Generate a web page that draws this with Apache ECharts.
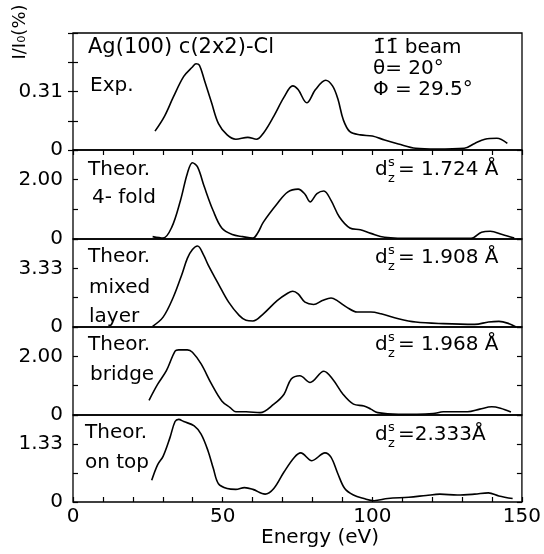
<!DOCTYPE html>
<html>
<head>
<meta charset="utf-8">
<script src="https://cdn.jsdelivr.net/npm/echarts@6/dist/echarts.min.js"></script>
<style>
html, body { margin: 0; padding: 0; background: #fff; }
#chart { width: 544px; height: 554px; }
</style>
</head>
<body>
<div id="chart"></div>
<script>
// energy (eV), intensity pairs
const expCurve = [[27.4,0.10],[30.6,0.18],[33.5,0.28],[37.0,0.39],[39.9,0.44],[41.1,0.457],[42.2,0.45],[43.9,0.37],[46.3,0.25],[48.6,0.14],[51.5,0.08],[54.4,0.057],[58.4,0.067],[61.3,0.057],[63.6,0.089],[67.1,0.18],[70.5,0.28],[73.4,0.34],[75.2,0.32],[78.1,0.25],[81.0,0.32],[84.4,0.37],[86.7,0.34],[88.5,0.27],[90.3,0.16],[92.5,0.097],[96.0,0.08],[100.0,0.074],[104.1,0.053],[108.7,0.032],[114.5,0.009],[121.4,0.005],[130.7,0.009],[134.2,0.035],[137.6,0.057],[141.6,0.062],[145.1,0.035]];
const fourFold = [[26.6,0.08],[30.1,0.03],[33.0,0.40],[35.9,1.30],[38.2,2.21],[39.9,2.57],[41.6,2.43],[43.9,1.75],[46.8,0.96],[49.7,0.37],[53.2,0.15],[56.7,0.08],[60.1,0.03],[61.8,0.22],[63.6,0.57],[68.2,1.19],[71.7,1.58],[75.2,1.68],[77.5,1.51],[79.2,1.25],[81.5,1.53],[83.8,1.62],[86.2,1.30],[89.0,0.74],[92.5,0.37],[96.0,0.31],[99.5,0.19],[104.1,0.06],[114.5,0.02],[133.0,0.02],[136.5,0.23],[139.4,0.26],[143.4,0.15],[147.4,0.03]];
const mixedLayer = [[26.6,0.04],[30.1,0.56],[33.5,1.69],[36.4,3.0],[38.2,3.9],[39.9,4.4],[41.6,4.6],[43.6,4.1],[45.1,3.55],[48.6,2.44],[52.0,1.41],[55.5,0.66],[57.8,0.38],[60.1,0.34],[63.6,0.75],[68.2,1.50],[71.7,1.92],[73.4,2.03],[75.2,1.88],[77.5,1.41],[80.4,1.28],[83.3,1.50],[86.2,1.65],[88.5,1.47],[91.4,1.13],[94.9,0.85],[99.5,0.85],[102.9,0.75],[108.7,0.47],[114.5,0.28],[123.7,0.19],[134.2,0.15],[138.8,0.28],[142.3,0.32],[145.7,0.19],[148.0,0.0]];
const bridge = [[25.4,0.50],[28.3,1.05],[31.2,1.51],[34.1,2.18],[35.3,2.22],[38.2,2.22],[39.9,2.14],[42.8,1.74],[46.3,1.05],[49.7,0.48],[52.5,0.25],[54.4,0.11],[57.8,0.11],[62.5,0.08],[67.1,0.37],[70.5,0.71],[72.9,1.23],[75.8,1.34],[79.2,1.11],[83.8,1.49],[86.7,1.23],[90.2,0.71],[93.7,0.37],[97.2,0.31],[99.5,0.20],[101.8,0.08],[108.7,0.02],[120.3,0.05],[123.7,0.11],[131.8,0.11],[135.9,0.20],[139.9,0.28],[142.8,0.23],[146.3,0.10]];
const onTop = [[26.3,0.50],[28.3,0.86],[30.1,1.05],[32.4,1.48],[34.1,1.85],[35.3,1.90],[37.0,1.85],[40.5,1.75],[42.8,1.56],[45.1,1.18],[46.9,0.77],[48.6,0.42],[51.5,0.31],[54.4,0.29],[57.3,0.33],[60.1,0.29],[64.2,0.18],[67.1,0.31],[70.5,0.69],[74.0,1.03],[76.1,1.13],[79.8,0.95],[84.2,1.13],[86.2,1.03],[88.5,0.65],[90.8,0.31],[93.7,0.16],[97.2,0.08],[100.6,0.03],[105.2,0.08],[112.2,0.11],[118.0,0.15],[122.6,0.18],[128.4,0.16],[134.2,0.18],[138.8,0.21],[142.3,0.14],[146.9,0.08]];

const curves = [expCurve, fourFold, mixedLayer, bridge, onTop];
const panelMax = [0.62, 3, 5, 3, 2];
const panelSplits = [4, 3, 3, 3, 3];
const yTickLabels = [
  ['0', '', '0.31', '', ''],
  ['0', '', '2.00', ''],
  ['0', '', '3.33', ''],
  ['0', '', '2.00', ''],
  ['0', '', '1.33', '']
];
const xTickLabels = ['0', '50', '100', '150'];
const dLabels = ['= 1.724 Å', '= 1.908 Å', '= 1.968 Å', '=2.333Å'];

const panelTop = [33, 150, 239, 327, 415];
const panelBottom = [150, 239, 327, 415, 502];
const FONT = 'DejaVu Sans';

const chart = echarts.init(document.getElementById('chart'));

const grids = [], xAxes = [], yLeft = [], yRight = [], series = [];
for (let i = 0; i < 5; i++) {
  const last = i === 4;
  const step = panelMax[i] / panelSplits[i];
  grids.push({
    left: 73, right: 22, top: panelTop[i], height: panelBottom[i] - panelTop[i],
    show: true, borderColor: '#000', borderWidth: 1.3
  });
  xAxes.push({
    type: 'value', gridIndex: i, min: 0, max: 150, interval: 10,
    axisLine: { show: false },
    splitLine: { show: false },
    axisTick: { show: last, inside: true, length: 5, lineStyle: { color: '#000', width: 1.2 } },
    axisLabel: {
      show: last, color: '#000', fontFamily: FONT, fontSize: 20, margin: 5,
      formatter: v => (v % 50 === 0 ? xTickLabels[v / 50] : '')
    }
  });
  yLeft.push({
    type: 'value', gridIndex: i, min: 0, max: panelMax[i], interval: step,
    axisLine: { show: false },
    splitLine: { show: false },
    axisTick: { show: true, inside: true, length: 5, lineStyle: { color: '#000', width: 1.2 } },
    axisLabel: {
      color: '#000', fontFamily: FONT, fontSize: 20, margin: 10,
      formatter: v => yTickLabels[i][Math.round(v / step)] || ''
    }
  });
  yRight.push({
    type: 'value', gridIndex: i, position: 'right', min: 0, max: panelMax[i], interval: step,
    axisLine: { show: false },
    splitLine: { show: false },
    axisTick: { show: true, inside: true, length: 5, lineStyle: { color: '#000', width: 1.2 } },
    axisLabel: { show: false }
  });
  series.push({
    type: 'line', xAxisIndex: i, yAxisIndex: i, data: curves[i],
    showSymbol: false, smooth: 0.35, silent: true,
    lineStyle: { color: '#000', width: 1.6 }
  });
}
// ticks along the top edge of the first panel
xAxes.push({
  type: 'value', gridIndex: 0, position: 'top', min: 0, max: 150, interval: 10,
  axisLine: { show: false }, splitLine: { show: false },
  axisTick: { show: true, inside: true, length: 5, lineStyle: { color: '#000', width: 1.2 } },
  axisLabel: { show: false }
});

const txt = (text, x, y, size, extra) => ({
  type: 'text', silent: true,
  style: Object.assign({ text, x, y, fill: '#000', font: (size || 20) + 'px "' + FONT + '"', textVerticalAlign: 'middle' }, extra || {})
});

const graphics = [
  txt('Ag(100) c(2x2)-Cl', 88, 48, 21),
  txt('Exp.', 90, 86),
  txt('1\u03041\u0304 beam', 373, 48, 20),
  txt('\u03B8= 20°', 373, 69, 20),
  txt('\u03A6 = 29.5°', 373, 90, 20),
  txt('Theor.', 88, 170), txt('4- fold', 92, 198),
  txt('Theor.', 88, 257), txt('mixed', 89, 288), txt('layer', 89, 317),
  txt('Theor.', 88, 345), txt('bridge', 90, 375),
  txt('Theor.', 85, 433), txt('on top', 85, 463),
  txt('Energy (eV)', 320, 538, 20, { textAlign: 'center' }),
  {
    type: 'text', silent: true, x: 20, y: 32, rotation: Math.PI / 2,
    style: { text: 'I/I\u2080(%)', x: 0, y: 0, fill: '#000', font: '18px "' + FONT + '"', textAlign: 'center', textVerticalAlign: 'middle' }
  }
];
const dY = [170, 258, 345, 435];
for (let k = 0; k < 4; k++) {
  graphics.push(txt('d', 375, dY[k], 20));
  graphics.push(txt('s', 388, dY[k] - 7, 13));
  graphics.push(txt('z', 388, dY[k] + 9, 13));
  graphics.push(txt(dLabels[k], 398, dY[k], 20));
}

chart.setOption({
  animation: false,
  backgroundColor: '#fff',
  grid: grids,
  xAxis: xAxes,
  yAxis: yLeft.concat(yRight),
  series: series,
  graphic: graphics
});
</script>
</body>
</html>
